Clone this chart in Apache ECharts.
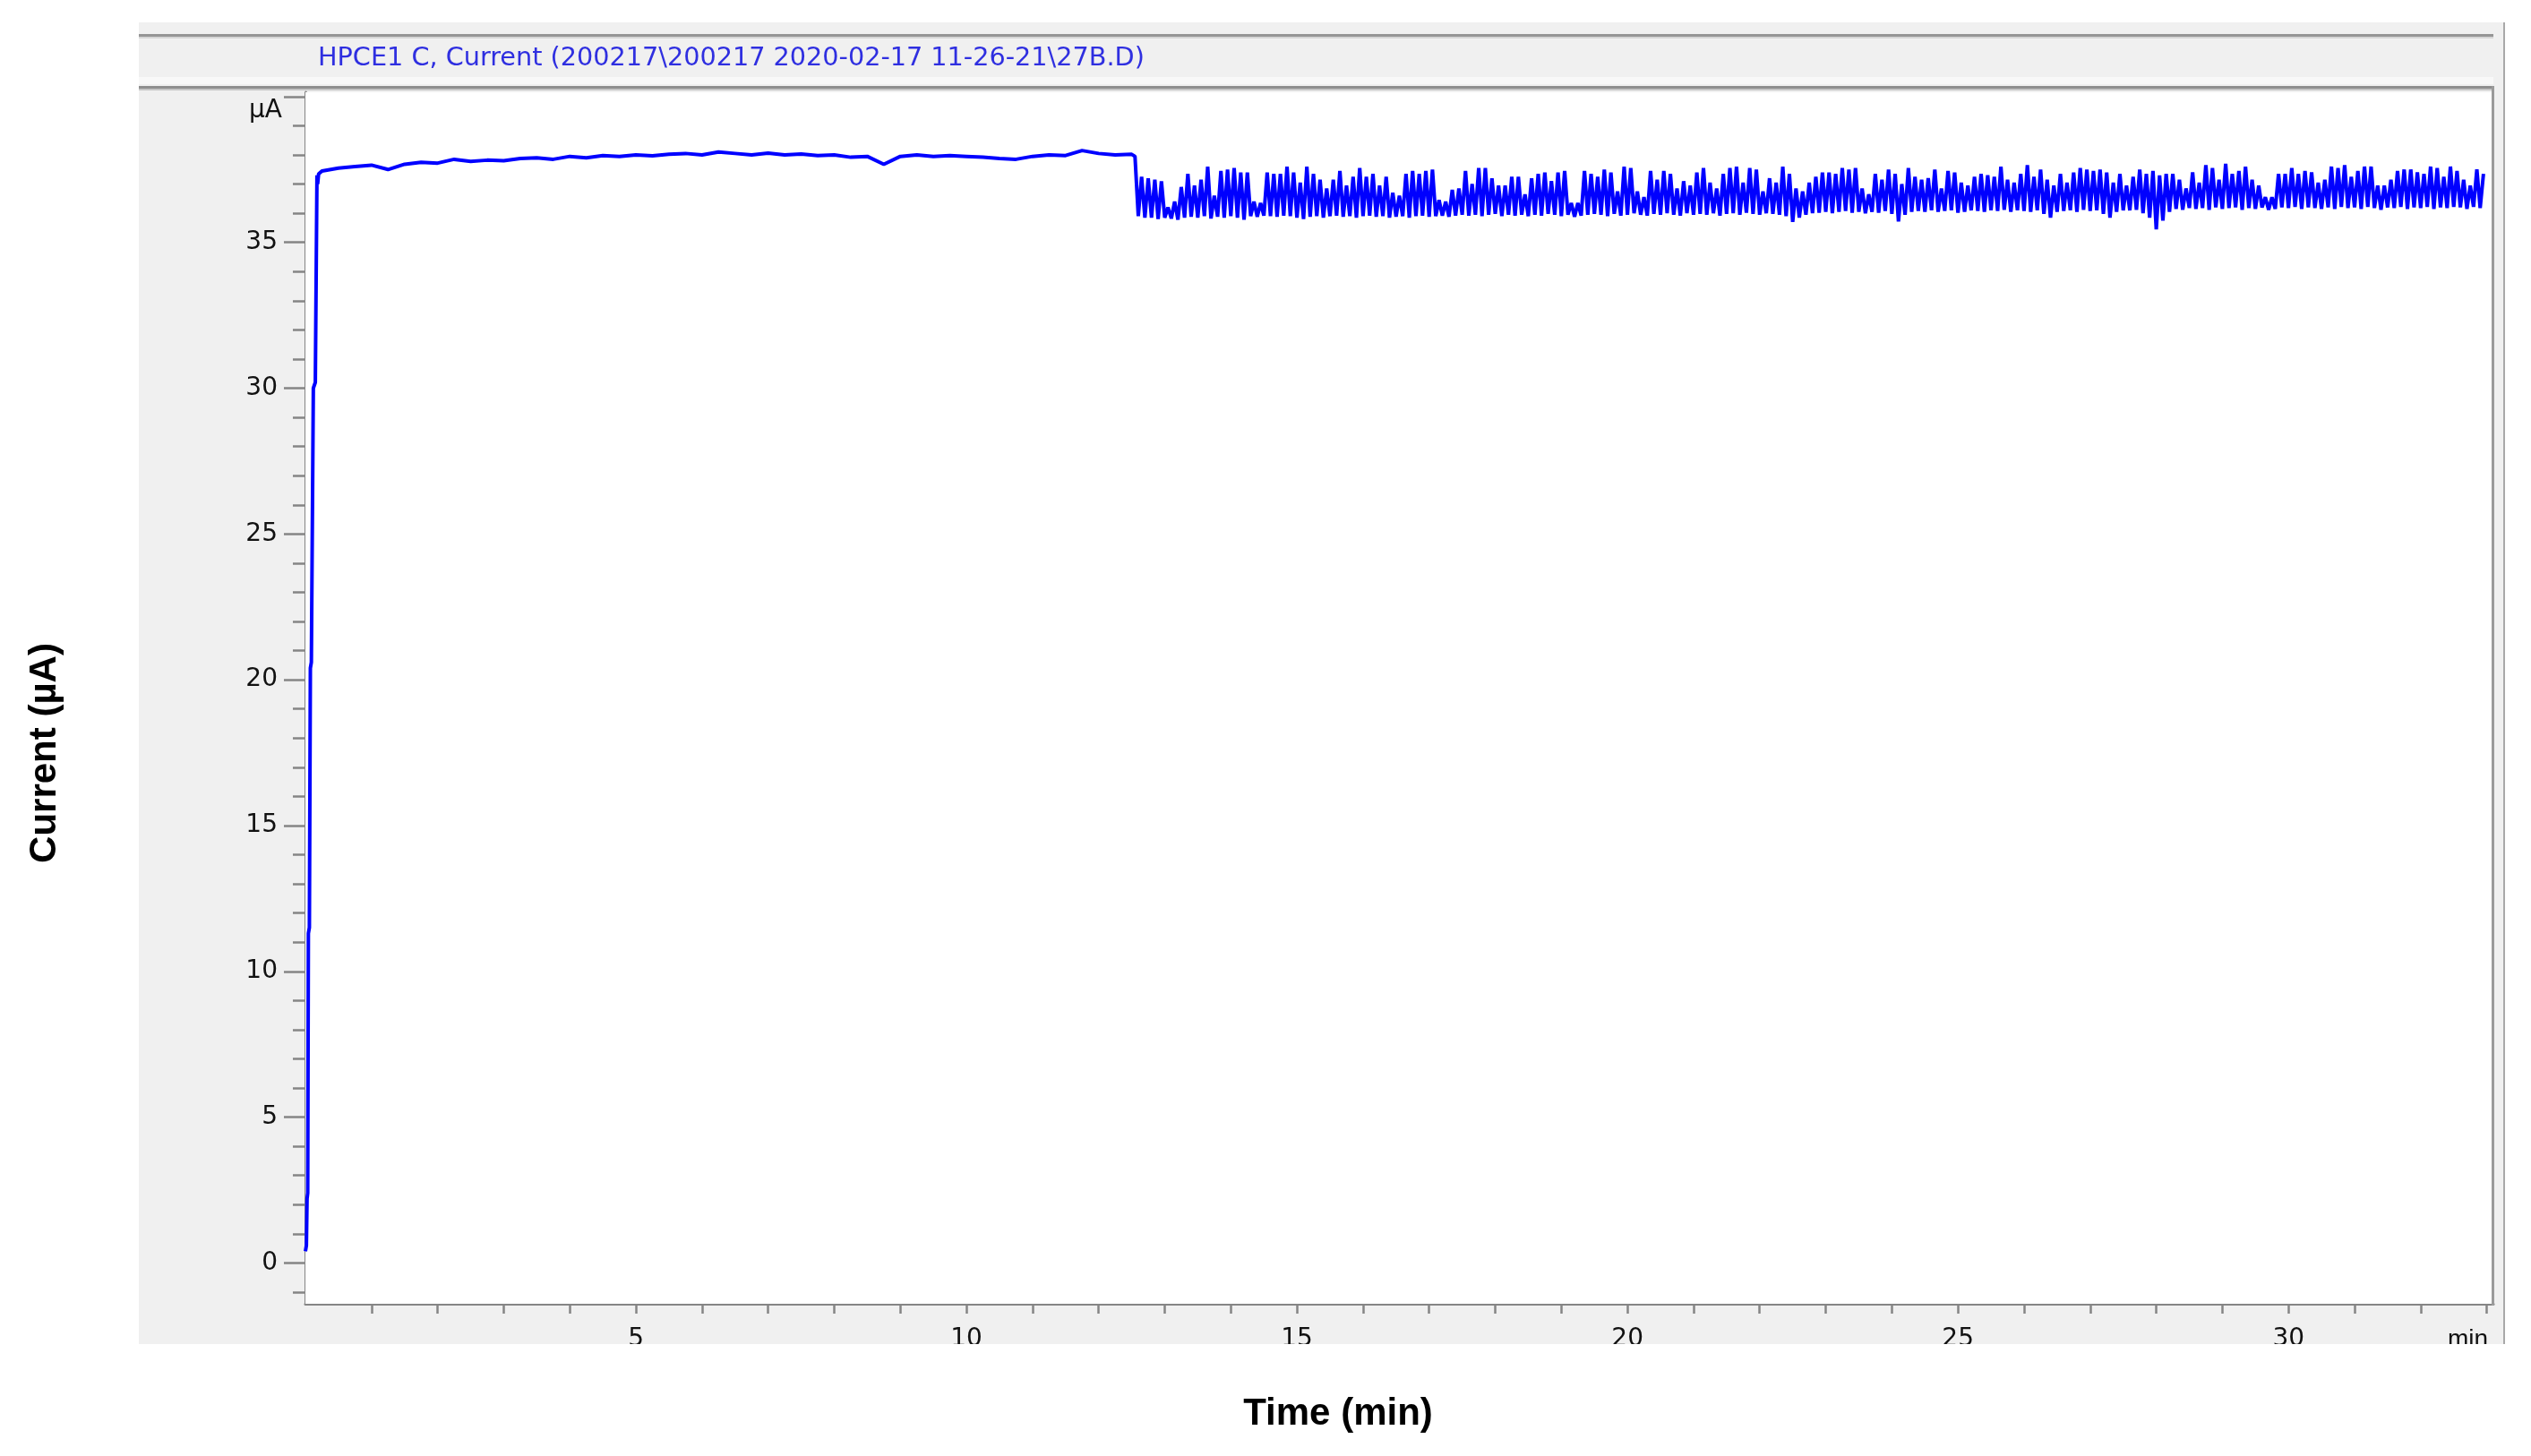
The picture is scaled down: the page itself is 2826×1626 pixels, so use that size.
<!DOCTYPE html>
<html>
<head>
<meta charset="utf-8">
<script src="https://cdn.jsdelivr.net/npm/echarts@6/dist/echarts.min.js"></script>
<style>
  html, body { margin: 0; padding: 0; background: #ffffff; }
  #chart { width: 2826px; height: 1626px; }
</style>
</head>
<body>
<div id="chart"></div>
<script>
// ---------------- DATA ----------------
const headerText = 'HPCE1 C, Current (200217\\200217 2020-02-17 11-26-21\\27B.D)';
const xTitle = 'Time (min)';
const yTitle = 'Current (\u00b5A)';
const yUnitLabel = '\u00b5A';
const xUnitLabel = 'min';

const xLabelValues = [5, 10, 15, 20, 25, 30];
const xMinorTicks = [1,2,3,4,5,6,7,8,9,10,11,12,13,14,15,16,17,18,19,20,21,22,23,24,25,26,27,28,29,30,31,32,33];
const yLabelValues = [0, 5, 10, 15, 20, 25, 30, 35];
const yMajorTicks = [0, 5, 10, 15, 20, 25, 30, 35, 40];
const yMinorTicks = [-1,0,1,2,3,4,5,6,7,8,9,10,11,12,13,14,15,16,17,18,19,20,21,22,23,24,25,26,27,28,29,30,31,32,33,34,35,36,37,38,39,40];

// start-up ramp and stable plateau (time in min, current in µA)
const phase1T = [0, 0.015, 0.025, 0.035, 0.045, 0.06, 0.075, 0.09, 0.12, 0.15, 0.175, 0.185, 0.2,
  0.25, 0.5, 0.75, 1.0, 1.25, 1.5, 1.75, 2.0, 2.25, 2.5, 2.75, 3.0, 3.25, 3.5, 3.75, 4.0,
  4.25, 4.5, 4.75, 5.0, 5.25, 5.5, 5.75, 6.0, 6.25, 6.5, 6.75, 7.0, 7.25, 7.5, 7.75, 8.0,
  8.25, 8.5, 8.75, 9.0, 9.25, 9.5, 9.75, 10.0, 10.25, 10.5, 10.75, 11.0, 11.25, 11.5, 11.75,
  12.0, 12.25, 12.5, 12.55];
const phase1V = [0.4, 0.6, 2.2, 2.4, 11.3, 11.5, 20.4, 20.6, 30.0, 30.2, 37.3, 37.0, 37.35,
  37.45, 37.55, 37.6, 37.65, 37.5, 37.68, 37.75, 37.72, 37.85, 37.78, 37.82, 37.8, 37.88, 37.9, 37.85, 37.95,
  37.9, 37.98, 37.95, 38.0, 37.97, 38.02, 38.05, 38.0, 38.1, 38.05, 38.0, 38.06, 38.0, 38.03, 37.98, 38.0,
  37.92, 37.95, 37.68, 37.95, 38.0, 37.95, 37.98, 37.95, 37.92, 37.88, 37.85, 37.95, 38.0, 37.98, 38.15,
  38.05, 38.0, 38.02, 37.95];

// noisy section after 12.6 min: per 0.1-min bin, lowest and highest reading
const traceStart = 12.6;
const traceStep = 0.1;
const traceLow = [
  35.9, 35.85, 35.85, 35.8, 35.85, 35.82, 35.78, 35.85, 35.88, 35.85,
  35.9, 35.82, 35.88, 35.85, 35.9, 35.85, 35.78, 35.9, 35.88, 35.92,
  35.9, 35.88, 35.92, 35.9, 35.85, 35.8, 35.88, 35.9, 35.85, 35.9,
  35.92, 35.88, 35.9, 35.85, 35.9, 35.92, 35.88, 35.9, 35.85, 35.88,
  35.9, 35.85, 35.9, 35.92, 35.88, 35.9, 35.92, 35.88, 35.92, 35.95,
  35.92, 35.95, 35.9, 35.95, 35.98, 35.9, 35.95, 35.92, 35.95, 35.9,
  35.95, 35.92, 35.98, 35.95, 35.9, 35.95, 35.88, 35.92, 35.95, 35.98,
  35.95, 35.9, 35.98, 35.92, 35.95, 36.0, 35.95, 35.92, 35.98, 35.95,
  36.0, 35.95, 35.92, 36.0, 35.95, 35.98, 35.95, 36.0, 35.92, 35.98,
  36.0, 35.95, 36.02, 35.98, 35.95, 36.0, 35.98, 35.95, 35.9, 35.7,
  35.85, 35.95, 36.0, 36.02, 36.05, 36.0, 36.05, 36.08, 36.02, 36.05,
  36.0, 36.05, 36.02, 36.08, 35.98, 35.72, 35.95, 36.05, 36.08, 36.05,
  36.1, 36.05, 36.08, 36.1, 36.02, 36.05, 36.1, 36.08, 36.05, 36.1,
  36.08, 36.12, 36.05, 36.1, 36.08, 36.05, 36.1, 35.98, 35.85, 36.05,
  36.08, 36.1, 36.05, 36.12, 36.08, 36.1, 35.98, 35.85, 36.05, 36.1,
  36.1, 36.12, 36.0, 35.85, 35.45, 35.75, 36.05, 36.15, 36.12, 36.18,
  36.15, 36.18, 36.12, 36.2, 36.15, 36.18, 36.2, 36.12, 36.18, 36.15,
  36.2, 36.12, 36.15, 36.2, 36.18, 36.22, 36.15, 36.2, 36.18, 36.15,
  36.2, 36.15, 36.22, 36.18, 36.2, 36.15, 36.22, 36.18, 36.12, 36.2,
  36.18, 36.22, 36.15, 36.2, 36.18, 36.22, 36.15, 36.2, 36.18, 36.22,
  36.2, 36.15, 36.22, 36.18
];
const traceHigh = [
  37.25, 37.2, 37.15, 37.1, 36.2, 36.4, 36.9, 37.35, 36.95, 37.15,
  37.6, 36.6, 37.45, 37.5, 37.55, 37.4, 37.4, 36.4, 36.35, 37.4,
  37.35, 37.35, 37.6, 37.4, 37.05, 37.6, 37.35, 37.15, 36.85, 37.15,
  37.45, 36.95, 37.25, 37.55, 37.25, 37.35, 36.95, 37.25, 36.7, 36.6,
  37.35, 37.45, 37.35, 37.45, 37.5, 36.45, 36.4, 36.8, 36.85, 37.45,
  37.0, 37.55, 37.55, 37.2, 36.95, 36.95, 37.25, 37.25, 36.65, 37.2,
  37.35, 37.4, 37.1, 37.4, 37.45, 36.35, 36.35, 37.45, 37.35, 37.25,
  37.5, 37.4, 36.75, 37.6, 37.55, 36.75, 36.55, 37.45, 37.15, 37.45,
  37.35, 36.85, 37.1, 36.95, 37.4, 37.55, 37.05, 36.85, 37.35, 37.55,
  37.6, 37.05, 37.55, 37.5, 36.75, 37.2, 37.05, 37.6, 37.35, 36.85,
  36.75, 37.05, 37.25, 37.4, 37.4, 37.35, 37.55, 37.5, 37.55, 36.85,
  36.65, 37.35, 37.15, 37.5, 37.35, 37.0, 37.55, 37.25, 37.15, 37.2,
  37.5, 36.85, 37.45, 37.4, 37.05, 36.95, 37.25, 37.35, 37.3, 37.25,
  37.6, 37.15, 37.05, 37.35, 37.65, 37.25, 37.5, 37.15, 36.95, 37.35,
  37.05, 37.4, 37.55, 37.5, 37.45, 37.5, 37.4, 37.05, 37.35, 36.95,
  37.25, 37.5, 37.35, 37.45, 37.3, 37.35, 37.35, 37.15, 36.85, 37.4,
  37.05, 37.65, 37.55, 37.15, 37.7, 37.35, 37.45, 37.6, 37.15, 36.95,
  36.55, 36.55, 37.35, 37.35, 37.55, 37.35, 37.45, 37.4, 37.05, 37.15,
  37.6, 37.55, 37.65, 37.25, 37.45, 37.6, 37.6, 36.95, 36.95, 37.15,
  37.45, 37.5, 37.5, 37.4, 37.35, 37.6, 37.55, 37.25, 37.6, 37.45,
  37.15, 36.95, 37.5, 37.35
];

// ---------------- BUILD ----------------
const seriesData = [];
for (let i = 0; i < phase1T.length; i++) seriesData.push([phase1T[i], phase1V[i]]);
for (let i = 0; i < traceLow.length; i++) {
  const t = traceStart + i * traceStep;
  seriesData.push([+t.toFixed(3), traceLow[i]]);
  seriesData.push([+(t + traceStep / 2).toFixed(3), traceHigh[i]]);
}

const AX = '#858585';
const labelFont = '"DejaVu Sans", sans-serif';
const chart = echarts.init(document.getElementById('chart'), null, { renderer: 'canvas' });

const option = {
  animation: false,
  backgroundColor: '#ffffff',
  grid: {
    left: 341, top: 103, right: 42, bottom: 170,
    show: true, backgroundColor: '#ffffff', borderWidth: 0, z: 1
  },
  xAxis: [
    {
      type: 'value', min: 0, max: 33.1, position: 'bottom',
      axisLine: { show: true, onZero: false, lineStyle: { color: AX, width: 3 } },
      axisTick: { show: true, customValues: xMinorTicks, length: 11, lineStyle: { color: AX, width: 2.5 } },
      axisLabel: { show: true, customValues: xLabelValues, margin: 26, color: '#111', fontSize: 28, fontFamily: labelFont },
      splitLine: { show: false }
    },
    {
      type: 'value', min: 0, max: 33.1, position: 'bottom', offset: 0,
      axisLine: { show: false },
      axisTick: { show: true, customValues: xLabelValues, length: 19, lineStyle: { color: AX, width: 2.5 } },
      axisLabel: { show: false },
      splitLine: { show: false }
    }
  ],
  yAxis: [
    {
      type: 'value', min: -1.4, max: 40.15, position: 'left',
      axisLine: { show: true, onZero: false, lineStyle: { color: AX, width: 3 } },
      axisTick: { show: true, customValues: yMinorTicks, length: 14, lineStyle: { color: AX, width: 2.5 } },
      axisLabel: { show: true, customValues: yLabelValues, margin: 31, color: '#111', fontSize: 28, fontFamily: labelFont },
      splitLine: { show: false }
    },
    {
      type: 'value', min: -1.4, max: 40.15, position: 'left', offset: 0,
      axisLine: { show: false },
      axisTick: { show: true, customValues: yMajorTicks, length: 24, lineStyle: { color: AX, width: 2.5 } },
      axisLabel: { show: false },
      splitLine: { show: false }
    }
  ],
  series: [{
    type: 'line',
    xAxisIndex: 0, yAxisIndex: 0,
    data: seriesData,
    showSymbol: false,
    symbol: 'none',
    sampling: null,
    clip: true,
    lineStyle: { color: '#0000ff', width: 4 },
    z: 5
  }],
  graphic: [
    // gray instrument panel
    { type: 'rect', z: -10, shape: { x: 155, y: 25, width: 2642, height: 1476 }, style: { fill: '#f0f0f0' } },
    // header top line
    { type: 'rect', z: -9, shape: { x: 155, y: 38, width: 2629, height: 3 }, style: { fill: '#959595' } },
    { type: 'rect', z: -9, shape: { x: 155, y: 41, width: 2629, height: 2 }, style: { fill: '#d6d6d6' } },
    // lighter strip under header text
    { type: 'rect', z: -9, shape: { x: 155, y: 86, width: 2629, height: 8 }, style: { fill: '#f8f8f8' } },
    // header separator line
    { type: 'rect', z: -9, shape: { x: 155, y: 96, width: 2629, height: 3 }, style: { fill: '#8e8e8e' } },
    { type: 'rect', z: -9, shape: { x: 155, y: 99, width: 2629, height: 2 }, style: { fill: '#c4c4c4' } },
    // header text
    { type: 'text', z: 20, style: { text: headerText, x: 355, y: 66, fill: '#2f2fe0',
        font: '28.7px "DejaVu Sans", sans-serif', textAlign: 'left', textVerticalAlign: 'middle' } },
    // plot right border and panel right border
    { type: 'rect', z: 20, shape: { x: 2782, y: 96, width: 3, height: 1362 }, style: { fill: '#9a9a9a' } },
    { type: 'rect', z: 20, shape: { x: 2795, y: 25, width: 2, height: 1476 }, style: { fill: '#a8a8a8' } },
    // unit labels on the axes
    { type: 'text', z: 20, style: { text: yUnitLabel, x: 315, y: 124, fill: '#111',
        font: '28px "DejaVu Sans", sans-serif', textAlign: 'right', textVerticalAlign: 'middle' } },
    { type: 'text', z: 20, style: { text: xUnitLabel, x: 2778, y: 1496, fill: '#111',
        font: '28px "Liberation Sans", sans-serif', textAlign: 'right', textVerticalAlign: 'middle' } },
    // white page area below the panel (clips the tick labels like the screenshot)
    { type: 'rect', z: 100, shape: { x: 0, y: 1501, width: 2826, height: 125 }, style: { fill: '#ffffff' } },
    // axis titles
    { type: 'text', z: 110, style: { text: xTitle, x: 1494, y: 1579, fill: '#000',
        font: 'bold 42px "Liberation Sans", Arial, sans-serif', textAlign: 'center', textVerticalAlign: 'middle' } },
    { type: 'text', z: 110, x: 50, y: 841, rotation: Math.PI / 2, style: { text: yTitle, x: 0, y: 0, fill: '#000',
        font: 'bold 42px "Liberation Sans", Arial, sans-serif', textAlign: 'center', textVerticalAlign: 'middle' } }
  ]
};
chart.setOption(option);
</script>
</body>
</html>
